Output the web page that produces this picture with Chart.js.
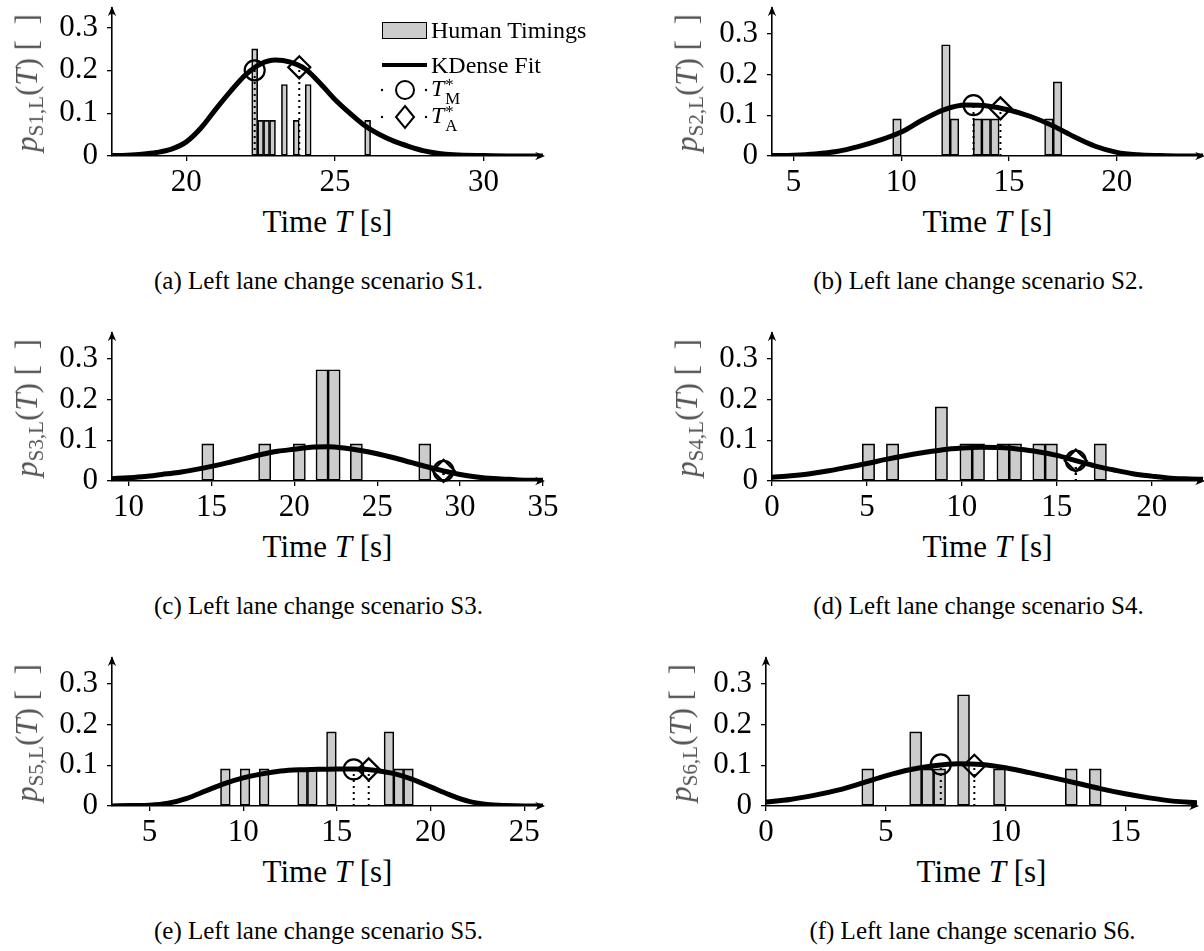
<!DOCTYPE html>
<html><head><meta charset="utf-8">
<script src="https://cdn.jsdelivr.net/npm/chart.js@4.4.1/dist/chart.umd.min.js"></script>
<style>
html,body{margin:0;padding:0;background:#fff;width:1204px;height:951px;overflow:hidden;position:relative;font-family:"Liberation Serif","DejaVu Serif",serif;color:#000}
canvas{position:absolute}
.t{position:absolute;white-space:nowrap}
.xt{font-size:31px;line-height:36px;transform:translateX(-50%)}
.cap{font-size:25px;line-height:30px;transform:translateX(-50%)}
.yt{font-size:31px;line-height:34px;color:#555;transform:translate(-50%,-50%) rotate(-90deg)}
.yt sub{font-size:0.68em;vertical-align:-0.3em;line-height:0}
.lg{font-size:24px;line-height:28px}
.ss{display:inline-block;vertical-align:-0.45em;line-height:0.8;font-size:0.7em;margin-left:1px}
.ss span{display:block}
.sym{position:absolute}
</style></head><body>
<script>
// ---------- data ----------
const scenarioNames = ["S1", "S2", "S3", "S4", "S5", "S6"];
const captionLetters = ["a", "b", "c", "d", "e", "f"];

// histogram bins (bin centre time [s], relative frequency)
const s1BinT = [22.3, 22.5, 22.7, 22.9, 23.3, 23.7, 24.1, 26.1];
const s1BinP = [0.25, 0.083, 0.083, 0.083, 0.167, 0.083, 0.167, 0.083];
const s2BinT = [9.8, 12.07, 12.47, 13.54, 13.94, 14.34, 16.85, 17.25];
const s2BinP = [0.091, 0.273, 0.091, 0.091, 0.091, 0.091, 0.091, 0.182];
const s3BinT = [14.78, 18.21, 20.3, 21.67, 22.4, 23.74, 27.87];
const s3BinP = [0.091, 0.091, 0.091, 0.273, 0.273, 0.091, 0.091];
const s4BinT = [5.08, 6.35, 8.92, 10.22, 10.87, 12.17, 12.82, 14.06, 14.71, 17.29];
const s4BinP = [0.091, 0.091, 0.182, 0.091, 0.091, 0.091, 0.091, 0.091, 0.091, 0.091];
const s5BinT = [9.05, 10.1, 11.12, 13.17, 13.69, 14.71, 17.78, 18.3, 18.82];
const s5BinP = [0.091, 0.091, 0.091, 0.091, 0.091, 0.182, 0.182, 0.091, 0.091];
const s6BinT = [4.25, 6.25, 6.75, 7.25, 8.25, 9.75, 12.75, 13.75];
const s6BinP = [0.091, 0.182, 0.091, 0.091, 0.273, 0.091, 0.091, 0.091];

// KDense fit curves
const s1KdeT = [17.5,18,18.5,19,19.5,20,20.5,21,21.5,22,22.5,23,23.5,24,24.5,25,25.5,26,26.5,27,27.5,28,28.5,29,30,31,32];
const s1KdeP = [0.001,0.002,0.004,0.008,0.016,0.033,0.066,0.110,0.152,0.190,0.215,0.224,0.219,0.203,0.170,0.132,0.100,0.071,0.050,0.034,0.022,0.012,0.006,0.003,0.001,0,0];
const s2KdeT = [4,5,6,7,8,9,10,11,12,13,14,15,16,17,18,19,20,21,22,23,24];
const s2KdeP = [0.001,0.002,0.005,0.011,0.023,0.039,0.059,0.089,0.114,0.125,0.123,0.113,0.097,0.075,0.048,0.024,0.009,0.003,0.001,0,0];
const s3KdeT = [9,10,11,12,13,14,15,16,17,18,19,20,21,22,23,24,25,26,27,28,29,30,31,32,33,34,35];
const s3KdeP = [0.006,0.008,0.011,0.016,0.021,0.028,0.036,0.045,0.055,0.065,0.073,0.078,0.083,0.084,0.081,0.075,0.067,0.057,0.046,0.035,0.025,0.016,0.010,0.006,0.004,0.002,0.002];
const s4KdeT = [0,1,2,3,4,5,6,7,8,9,10,11,12,13,14,15,16,17,18,19,20,21,22,22.7];
const s4KdeP = [0.009,0.013,0.018,0.025,0.034,0.043,0.053,0.062,0.070,0.077,0.081,0.083,0.082,0.078,0.072,0.063,0.050,0.037,0.027,0.018,0.012,0.007,0.005,0.004];
const s5KdeT = [3,4,5,6,7,8,9,10,11,12,13,14,15,16,17,18,19,20,21,22,23,24,25,26];
const s5KdeP = [0,0.001,0.002,0.007,0.019,0.037,0.055,0.069,0.079,0.086,0.089,0.090,0.091,0.091,0.088,0.080,0.066,0.047,0.028,0.012,0.004,0.001,0,0];
const s6KdeT = [0,1,2,3,4,5,6,7,8,9,10,11,12,13,14,15,16,17,18];
const s6KdeP = [0.010,0.016,0.026,0.039,0.056,0.074,0.089,0.099,0.104,0.102,0.094,0.082,0.069,0.056,0.042,0.030,0.020,0.012,0.008];

// optimal timings T*_M (circle) and T*_A (diamond)
const tStarM = [22.3, 13.35, 29.0, 16.0, 15.9, 7.3];
const pStarM = [0.200, 0.125, 0.025, 0.050, 0.090, 0.102];
const tStarA = [23.8, 14.6, 29.0, 16.0, 16.7, 8.7];
const pStarA = [0.207, 0.117, 0.025, 0.050, 0.090, 0.099];

// axis ranges and tick labels
const xMins = [17.5, 4, 9, 0, 3, 0];
const xMaxs = [32, 24, 35, 22.7, 26, 18];
const yMaxs = [0.345, 0.363, 0.363, 0.363, 0.363, 0.363];
const xTickVals = [[20, 25, 30], [5, 10, 15, 20], [10, 15, 20, 25, 30, 35], [0, 5, 10, 15, 20], [5, 10, 15, 20, 25], [0, 5, 10, 15]];
const yTickVals = [0, 0.1, 0.2, 0.3];
const legendLabels = ["Human Timings", "KDense Fit"];

// ---------- layout ----------
const binsT = [s1BinT, s2BinT, s3BinT, s4BinT, s5BinT, s6BinT];
const binsP = [s1BinP, s2BinP, s3BinP, s4BinP, s5BinP, s6BinP];
const kdeT = [s1KdeT, s2KdeT, s3KdeT, s4KdeT, s5KdeT, s6KdeT];
const kdeP = [s1KdeP, s2KdeP, s3KdeP, s4KdeP, s5KdeP, s6KdeP];
const plotLeft = [112, 772, 112, 772, 112, 766];
const plotTop = [5, 5, 330, 330, 655, 655];
const PW = 431, PH = 151, YW = 80, XH = 42, PADT = 10, PADR = 24;
const FONT = "'Liberation Serif', 'DejaVu Serif', serif";

const pts = (xs, ys) => xs.map((x, i) => ({x: x, y: ys[i]}));

const axisArrows = {
  id: 'axisArrows',
  afterDraw(chart) {
    const a = chart.chartArea, c = chart.ctx, L = 10, W = 4.2;
    c.save(); c.fillStyle = '#000';
    c.beginPath();
    c.moveTo(a.left, a.top - 2);
    c.lineTo(a.left - W, a.top + L - 2);
    c.quadraticCurveTo(a.left, a.top + L * 0.5 - 2, a.left + W, a.top + L - 2);
    c.closePath(); c.fill();
    c.beginPath();
    c.moveTo(a.right + 2, a.bottom);
    c.lineTo(a.right - L + 2, a.bottom - W);
    c.quadraticCurveTo(a.right - L * 0.5 + 2, a.bottom, a.right - L + 2, a.bottom + W);
    c.closePath(); c.fill();
    c.restore();
  }
};

function addText(cls, html, left, top) {
  const d = document.createElement('div');
  d.className = 't ' + cls;
  d.innerHTML = html;
  d.style.left = left + 'px';
  d.style.top = top + 'px';
  document.body.appendChild(d);
  return d;
}

for (let i = 0; i < 6; i++) {
  const cv = document.createElement('canvas');
  const W = YW + PW + PADR, H = PADT + PH + XH;
  cv.width = W; cv.height = H;
  cv.style.left = (plotLeft[i] - YW) + 'px';
  cv.style.top = (plotTop[i] - PADT) + 'px';
  cv.style.width = W + 'px'; cv.style.height = H + 'px';
  document.body.appendChild(cv);

  const tickFont = {family: FONT, size: 31};
  const xt = xTickVals[i];
  new Chart(cv.getContext('2d'), {
    type: 'bar',
    data: {
      datasets: [
        {type: 'scatter', data: [{x: tStarM[i], y: pStarM[i]}], pointStyle: 'circle', pointRadius: 10,
         pointBorderWidth: 2.2, pointBorderColor: '#000', pointBackgroundColor: 'rgba(0,0,0,0)', clip: false, order: 0},
        {type: 'scatter', data: [{x: tStarA[i], y: pStarA[i]}], pointStyle: 'rectRot', pointRadius: 11,
         pointBorderWidth: 2.2, pointBorderColor: '#000', pointBackgroundColor: 'rgba(0,0,0,0)', clip: false, order: 0},
        {type: 'line', data: pts(kdeT[i], kdeP[i]), borderColor: '#000', borderWidth: 5, pointRadius: 0,
         cubicInterpolationMode: 'monotone', fill: false, order: 1},
        {type: 'line', data: [{x: tStarM[i], y: 0}, {x: tStarM[i], y: pStarM[i]}], borderColor: '#000', borderWidth: 2,
         borderDash: [2, 4], pointRadius: 0, fill: false, order: 2},
        {type: 'line', data: [{x: tStarA[i], y: 0}, {x: tStarA[i], y: pStarA[i]}], borderColor: '#000', borderWidth: 2,
         borderDash: [2, 4], pointRadius: 0, fill: false, order: 2},
        {type: 'bar', data: pts(binsT[i], binsP[i]), backgroundColor: '#cccccc', borderColor: '#000', borderWidth: 1.6,
         borderSkipped: false, barPercentage: 1, categoryPercentage: 1, grouped: false, order: 3}
      ]
    },
    options: {
      responsive: false, animation: false, devicePixelRatio: 1,
      layout: {padding: {left: 0, right: PADR, top: PADT, bottom: 0}},
      plugins: {legend: {display: false}, tooltip: {enabled: false}},
      events: [],
      scales: {
        x: {
          type: 'linear', min: xMins[i], max: xMaxs[i], offset: false,
          afterBuildTicks: s => { s.ticks = xt.map(v => ({value: v})); },
          ticks: {maxRotation: 0, autoSkip: false, padding: 3,
                  color: '#000', font: tickFont, callback: v => String(v)},
          grid: {drawOnChartArea: false, drawTicks: true, tickLength: 5, color: '#000', lineWidth: 1.3, offset: false},
          border: {display: true, color: '#000', width: 1.6},
          afterFit: s => { s.height = XH; s.paddingLeft = 0; s.paddingRight = 0; }
        },
        y: {
          type: 'linear', min: 0, max: yMaxs[i],
          afterBuildTicks: s => { s.ticks = yTickVals.map(v => ({value: v})); },
          ticks: {padding: 9, color: '#000', font: tickFont,
                  callback: v => (Math.abs(v) < 1e-9 ? '0' : v.toFixed(1))},
          grid: {drawOnChartArea: false, drawTicks: true, tickLength: 5, color: '#000', lineWidth: 1.3},
          border: {display: true, color: '#000', width: 1.6},
          afterFit: s => { s.width = YW; s.paddingTop = 0; s.paddingBottom = 0; }
        }
      }
    },
    plugins: [axisArrows]
  });

  // axis titles and caption
  addText('yt', '<i>p</i><sub>' + scenarioNames[i] + ',L</sub>(<i>T</i>)&nbsp;[&nbsp;&nbsp;]',
          plotLeft[i] - 85, plotTop[i] + 78);
  addText('xt', 'Time <i>T</i> [s]', plotLeft[i] + PW / 2, plotTop[i] + PH + 48);
  addText('cap', '(' + captionLetters[i] + ') Left lane change scenario ' + scenarioNames[i] + '.',
          plotLeft[i] + PW / 2 - 9, plotTop[i] + PH + 110);
}

// legend of subplot (a)
(function () {
  const box = document.createElement('div');
  box.className = 'sym';
  Object.assign(box.style, {left: '382px', top: '22px', width: '45px', height: '17px', background: '#cccccc',
    border: '1.6px solid #000', boxSizing: 'border-box'});
  document.body.appendChild(box);
  addText('lg', legendLabels[0], 431, 16);

  const ln = document.createElement('div');
  ln.className = 'sym';
  Object.assign(ln.style, {left: '382px', top: '63px', width: '45px', height: '4px', background: '#000'});
  document.body.appendChild(ln);
  addText('lg', legendLabels[1], 431, 51);

  const c1 = document.createElement('div');
  c1.className = 'sym';
  c1.style.left = '378px'; c1.style.top = '78px';
  c1.innerHTML = '<svg width="52" height="24"><circle cx="4" cy="12" r="1.2" fill="#000"/><circle cx="48" cy="12" r="1.2" fill="#000"/>' +
    '<circle cx="27" cy="12" r="9" fill="#fff" stroke="#000" stroke-width="2"/></svg>';
  document.body.appendChild(c1);
  addText('lg', '<i>T</i><span class="ss"><span>*</span><span>M</span></span>', 431, 74);

  const c2 = document.createElement('div');
  c2.className = 'sym';
  c2.style.left = '378px'; c2.style.top = '104px';
  c2.innerHTML = '<svg width="52" height="26"><circle cx="4" cy="13" r="1.2" fill="#000"/><circle cx="48" cy="13" r="1.2" fill="#000"/>' +
    '<polygon points="27,2 36,13 27,24 18,13" fill="#fff" stroke="#000" stroke-width="2"/></svg>';
  document.body.appendChild(c2);
  addText('lg', '<i>T</i><span class="ss"><span>*</span><span>A</span></span>', 431, 101);
})();
</script>
</body></html>
